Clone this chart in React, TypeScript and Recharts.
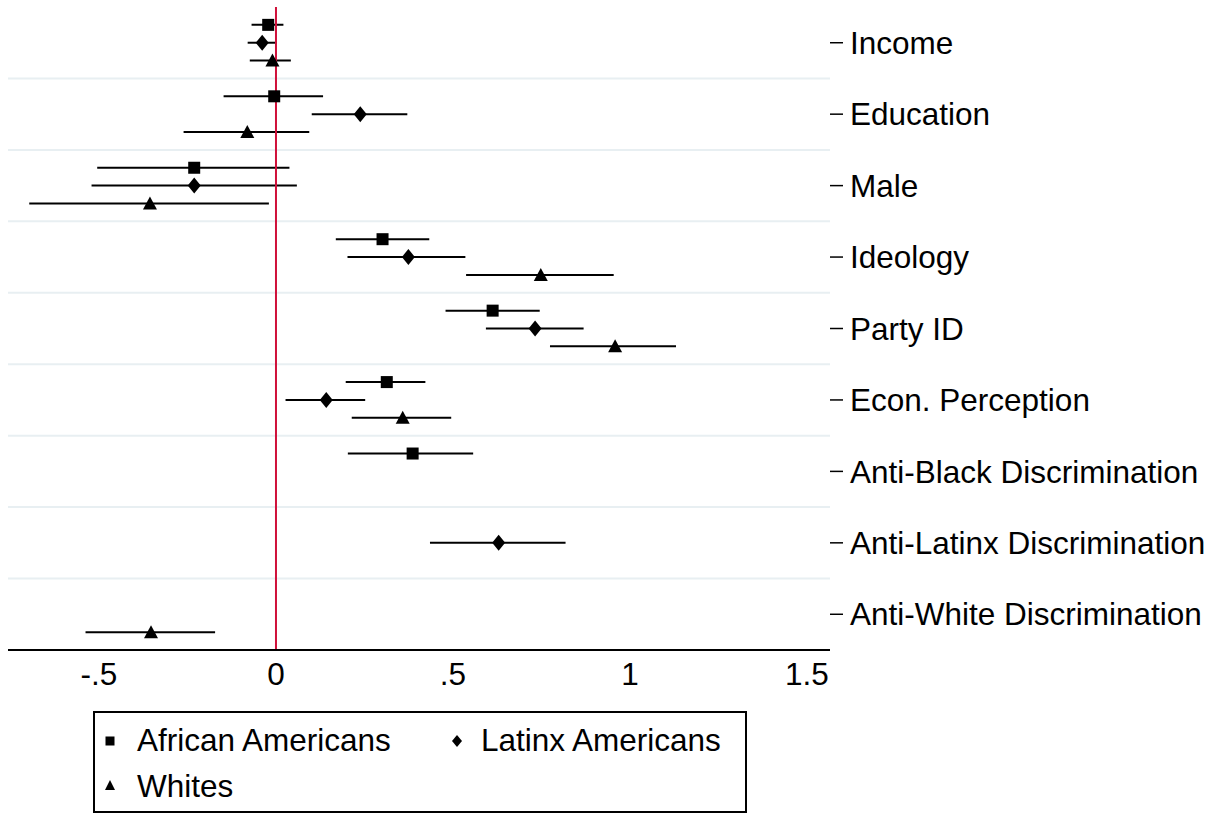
import React from "react";
import {
  ScatterChart,
  Scatter,
  XAxis,
  YAxis,
  ErrorBar,
  ReferenceLine,
} from "recharts";

const FONT = "'Liberation Sans', Arial, sans-serif";

const categories = [
  "Income",
  "Education",
  "Male",
  "Ideology",
  "Party ID",
  "Econ. Perception",
  "Anti-Black Discrimination",
  "Anti-Latinx Discrimination",
  "Anti-White Discrimination",
];

// point estimates and 95% interval bounds, one slot per category (null = not in model)
const blackEst = [-0.022, -0.005, -0.231, 0.301, 0.612, 0.313, 0.386, null, null];
const blackLo = [-0.069, -0.148, -0.505, 0.169, 0.479, 0.197, 0.203, null, null];
const blackHi = [0.021, 0.133, 0.038, 0.433, 0.745, 0.422, 0.557, null, null];

const latinxEst = [-0.039, 0.238, -0.231, 0.374, 0.732, 0.142, null, 0.629, null];
const latinxLo = [-0.08, 0.101, -0.521, 0.202, 0.593, 0.027, null, 0.435, null];
const latinxHi = [0.002, 0.371, 0.059, 0.535, 0.869, 0.252, null, 0.818, null];

const whiteEst = [-0.01, -0.081, -0.356, 0.748, 0.958, 0.358, null, null, -0.353];
const whiteLo = [-0.074, -0.261, -0.697, 0.537, 0.774, 0.214, null, null, -0.538];
const whiteHi = [0.042, 0.094, -0.02, 0.954, 1.13, 0.495, null, null, -0.172];

const xTicks = [-0.5, 0, 0.5, 1, 1.5];
const xTickLabels = ["-.5", "0", ".5", "1", "1.5"];

const rowTicks = categories.map((_, i) => i + 1);
const gridRows = categories.slice(1).map((_, i) => i + 1.5);

function buildSeries(est: (number | null)[], lo: (number | null)[], hi: (number | null)[], offset: number) {
  const out: { x: number; y: number; err: [number, number] }[] = [];
  est.forEach((v, i) => {
    if (v == null || lo[i] == null || hi[i] == null) return;
    out.push({ x: v, y: i + 1 + offset, err: [v - (lo[i] as number), (hi[i] as number) - v] });
  });
  return out;
}

const blackData = buildSeries(blackEst, blackLo, blackHi, -0.25);
const latinxData = buildSeries(latinxEst, latinxLo, latinxHi, 0);
const whiteData = buildSeries(whiteEst, whiteLo, whiteHi, 0.25);

const SquareMark = (p: any) => (
  <rect x={p.cx - 6} y={p.cy - 6} width={12} height={12} fill="#000" />
);
const DiamondMark = (p: any) => (
  <polygon
    points={`${p.cx},${p.cy - 8} ${p.cx + 6.5},${p.cy} ${p.cx},${p.cy + 8} ${p.cx - 6.5},${p.cy}`}
    fill="#000"
  />
);
const TriangleMark = (p: any) => (
  <polygon
    points={`${p.cx},${p.cy - 7} ${p.cx + 7},${p.cy + 6} ${p.cx - 7},${p.cy + 6}`}
    fill="#000"
  />
);

export default function App() {
  return (
    <div style={{ position: "absolute", left: 0, top: 0, width: 1218, height: 815, background: "#fff" }}>
      <ScatterChart width={1218} height={815} margin={{ top: 7, right: 0, left: 8, bottom: 115 }}>
        <XAxis
          type="number"
          dataKey="x"
          domain={[-0.757, 1.565]}
          allowDataOverflow
          ticks={xTicks}
          interval={0}
          tickFormatter={(v: number) => xTickLabels[xTicks.indexOf(v)] ?? String(v)}
          axisLine={{ stroke: "#000", strokeWidth: 2 }}
          tickLine={false}
          tickSize={6}
          tickMargin={7}
          height={50}
          tick={{ fill: "#000", fontSize: 31.5, fontFamily: FONT }}
        />
        <YAxis
          type="number"
          dataKey="y"
          orientation="right"
          reversed
          domain={[0.5, 9.5]}
          allowDataOverflow
          ticks={rowTicks}
          interval={0}
          tickFormatter={(v: number) => categories[v - 1] ?? ""}
          axisLine={false}
          tickLine={{ stroke: "#000", strokeWidth: 1.5 }}
          tickSize={13}
          tickMargin={7}
          width={388}
          tick={{ fill: "#000", fontSize: 31.5, fontFamily: FONT }}
        />
        {gridRows.map((r) => (
          <ReferenceLine key={r} y={r} stroke="#e8eff2" strokeWidth={2} />
        ))}
        <Scatter data={blackData} shape={SquareMark} isAnimationActive={false} name="African Americans">
          <ErrorBar dataKey="err" direction="x" width={0} stroke="#000" strokeWidth={2} />
        </Scatter>
        <Scatter data={latinxData} shape={DiamondMark} isAnimationActive={false} name="Latinx Americans">
          <ErrorBar dataKey="err" direction="x" width={0} stroke="#000" strokeWidth={2} />
        </Scatter>
        <Scatter data={whiteData} shape={TriangleMark} isAnimationActive={false} name="Whites">
          <ErrorBar dataKey="err" direction="x" width={0} stroke="#000" strokeWidth={2} />
        </Scatter>
        <ReferenceLine x={0} stroke="#d0103a" strokeWidth={2} />
      </ScatterChart>

      {/* legend box */}
      <div
        style={{
          position: "absolute",
          left: 93,
          top: 711,
          width: 654,
          height: 102,
          border: "2px solid #000",
          boxSizing: "border-box",
          fontFamily: FONT,
          fontSize: 31.5,
          lineHeight: "31px",
          color: "#000",
        }}
      >
        <svg width={12} height={12} style={{ position: "absolute", left: 9, top: 22 }}>
          <rect x={1.5} y={1.5} width={9} height={9} fill="#000" />
        </svg>
        <span style={{ position: "absolute", left: 42, top: 12, whiteSpace: "nowrap" }}>African Americans</span>
        <svg width={12} height={14} style={{ position: "absolute", left: 356, top: 21 }}>
          <polygon points="6,1 11,7 6,13 1,7" fill="#000" />
        </svg>
        <span style={{ position: "absolute", left: 386, top: 12, whiteSpace: "nowrap" }}>Latinx Americans</span>
        <svg width={12} height={12} style={{ position: "absolute", left: 9, top: 66 }}>
          <polygon points="6,1 11,11 1,11" fill="#000" />
        </svg>
        <span style={{ position: "absolute", left: 42, top: 58, whiteSpace: "nowrap" }}>Whites</span>
      </div>
    </div>
  );
}
